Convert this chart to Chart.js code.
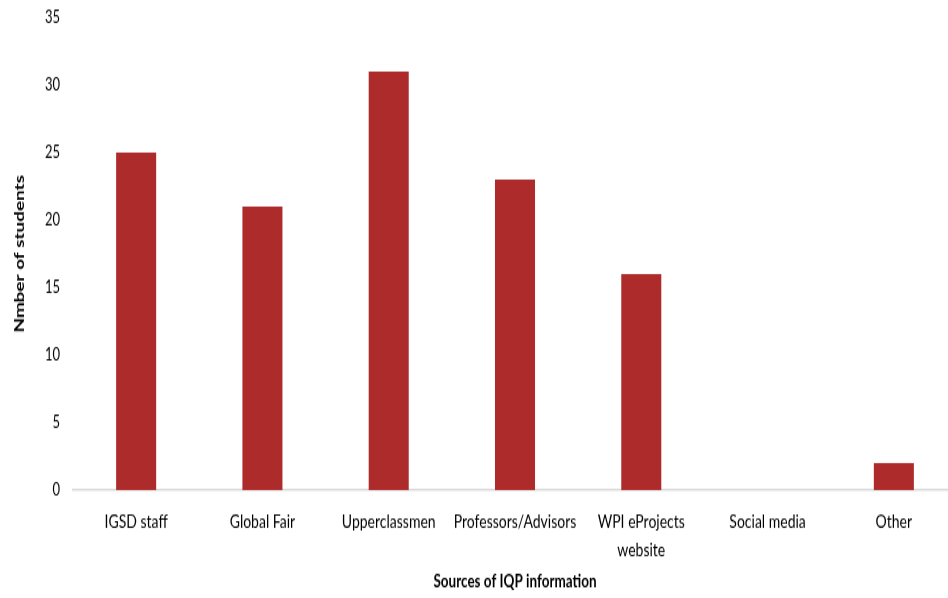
<!DOCTYPE html>
<html lang="en">
<head>
    <meta charset="UTF-8">
    <title>Sources of IQP information</title>
    <script src="https://cdn.jsdelivr.net/npm/chart.js@4/dist/chart.umd.min.js"></script>
    <style>
        html { overflow: hidden; }
        body { margin: 0; padding: 0; background: #fff; width: 948px; height: 598px; }
        /* chart is drawn short and stretched vertically to get the tall, narrow lettering */
        .chart-box {
            width: 960px;
            height: 443px;
            transform: scaleY(1.35);
            transform-origin: 0 0;
        }
    </style>
</head>
<body>
    <div class="chart-box">
        <canvas id="sourcesChart"></canvas>
    </div>

    <script>
        // Survey data
        const sources = ['IGSD staff', 'Global Fair', 'Upperclassmen', 'Professors/Advisors', ['WPI eProjects', 'website'], 'Social media', 'Other'];
        const studentCounts = [25, 21, 31, 23, 16, 0, 2];
        const yTicks = [0, 5, 10, 15, 20, 25, 30, 35];

        const fontFamily = 'Lato, "Liberation Sans", Arial, sans-serif';
        const textColor = '#000';

        const ctx = document.getElementById('sourcesChart').getContext('2d');
        new Chart(ctx, {
            type: 'bar',
            data: {
                labels: sources,
                datasets: [{
                    label: 'Number of students',
                    data: studentCounts,
                    backgroundColor: '#ad2b2b',
                    barPercentage: 1,
                    categoryPercentage: 0.317
                }]
            },
            options: {
                responsive: true,
                maintainAspectRatio: false,
                animation: false,
                layout: { padding: { top: 13, right: 3 } },
                plugins: {
                    legend: { display: false },
                    tooltip: { enabled: false }
                },
                scales: {
                    x: {
                        grid: { display: false, drawTicks: false },
                        border: { color: '#d9d9d9', width: 1.5 },
                        ticks: {
                            color: textColor,
                            padding: 13,
                            maxRotation: 0,
                            autoSkip: false,
                            font: { family: fontFamily, size: 14, lineHeight: 1.48 }
                        },
                        title: {
                            display: true,
                            text: 'Sources of IQP information',
                            color: textColor,
                            font: { family: fontFamily, size: 13.5, weight: 'bold' },
                            padding: { top: 0, bottom: 4 }
                        },
                        afterFit: scale => {
                            scale.height = 80;
                            scale.paddingLeft = 0;
                            scale.paddingRight = 0;
                        }
                    },
                    y: {
                        min: 0,
                        max: 35,
                        grid: { display: false, drawTicks: false },
                        border: { display: false },
                        afterBuildTicks: scale => {
                            scale.ticks = yTicks.map(v => ({ value: v }));
                        },
                        ticks: {
                            color: textColor,
                            padding: 13,
                            font: { family: fontFamily, size: 13 }
                        },
                        title: {
                            display: true,
                            text: 'Nmber of students',
                            color: textColor,
                            font: { family: fontFamily, size: 14, weight: 'bold' },
                            padding: { top: 11, bottom: 0 }
                        },
                        afterFit: scale => {
                            scale.width = 73;
                            scale.paddingTop = 0;
                            scale.paddingBottom = 0;
                        }
                    }
                }
            }
        });
    </script>
</body>
</html>
